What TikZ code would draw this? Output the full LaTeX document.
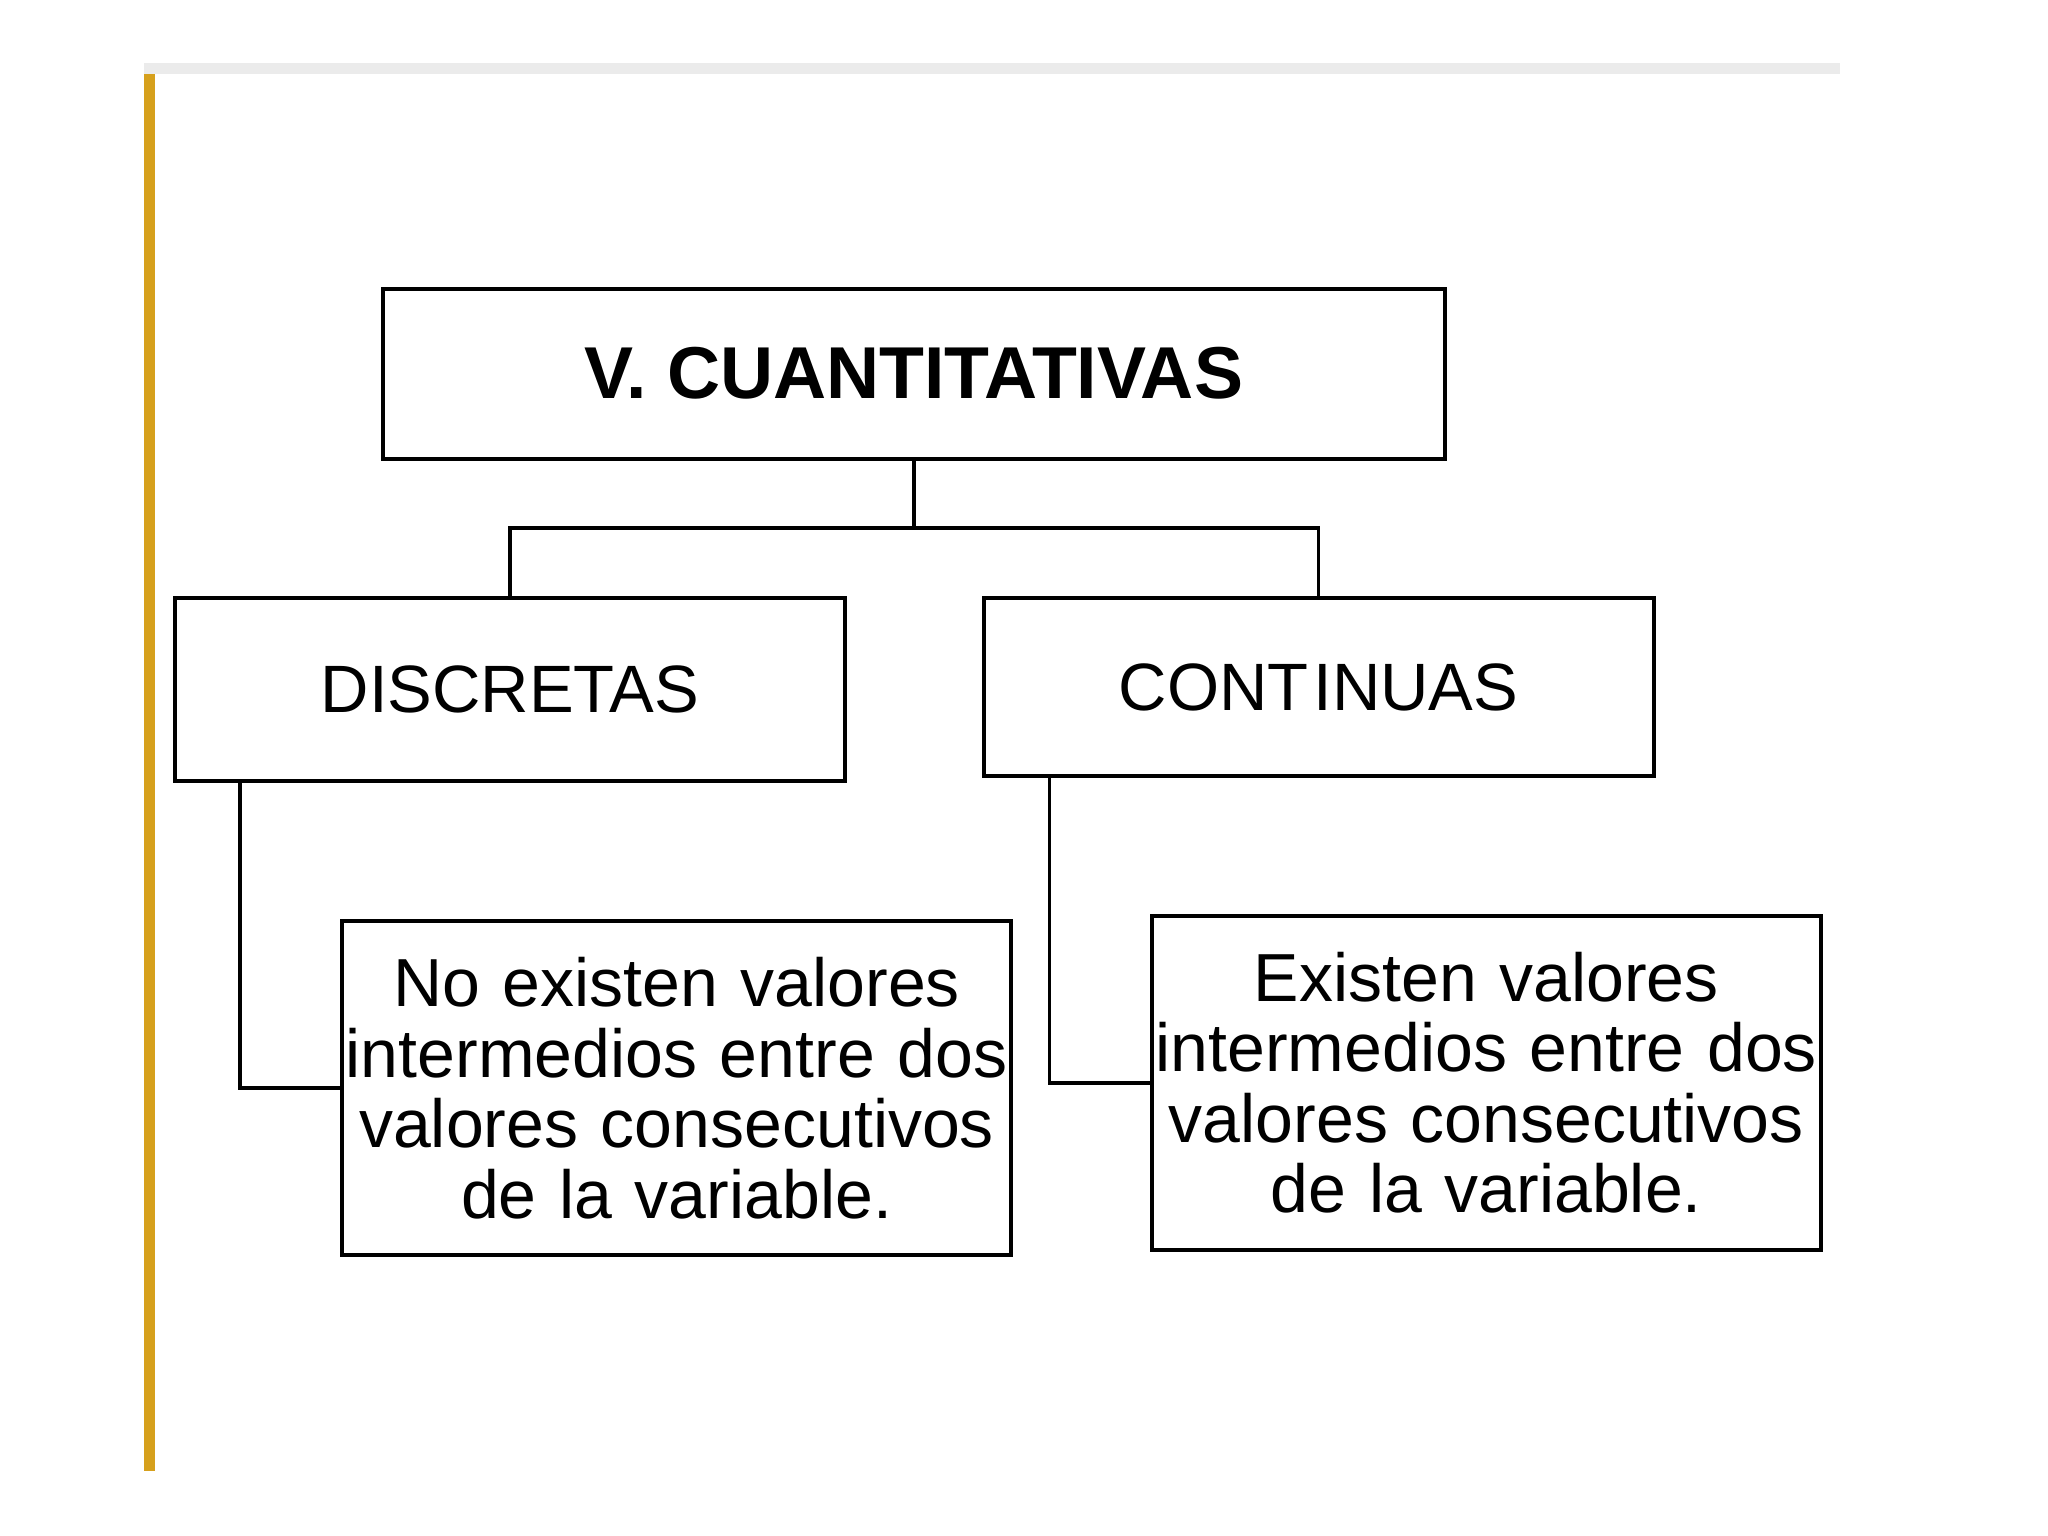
\documentclass[tikz,border=0pt]{standalone}
\usepackage{fontspec}
\setmainfont{Liberation Sans}
\definecolor{barGray}{RGB}{235,235,235}
\definecolor{barGold}{RGB}{214,160,28}
\begin{document}
\begin{tikzpicture}[x=1pt,y=-1pt,
  box/.style={draw=black, line width=4pt, inner sep=0pt, align=center, text=black},
  link/.style={draw=black, line width=3.8pt}]
\useasboundingbox (0,0) rectangle (2048,1536);
\fill[white] (0,0) rectangle (2048,1536);
% decoration bars
\fill[barGray] (144,63) rectangle (1840,74);
\fill[barGold] (144,74) rectangle (155,1471);
% nodes
\node[box, minimum width=1062pt, minimum height=170pt,
  font=\fontsize{73.5}{86}\selectfont\bfseries] (top) at (913.6,373.5) {V. CUANTITATIVAS};
\node[box, minimum width=670pt, minimum height=183pt,
  font=\fontsize{67}{80}\selectfont] (disc) at (510,689.6) {DISCRETAS};
\node[box, minimum width=670pt, minimum height=178pt,
  font=\fontsize{67}{80}\selectfont] (cont) at (1318.5,687) {CONT\kern5pt INUAS};
\node[box, minimum width=669pt, minimum height=334pt, text width=669pt,
  font=\fontsize{68}{70.5}\selectfont] (ltext) at (676.6,1088)
  {No existen valores\\intermedios entre dos\\valores consecutivos\\de la variable.};
\node[box, minimum width=669pt, minimum height=334pt, text width=669pt,
  font=\fontsize{68}{70.5}\selectfont] (rtext) at (1486.4,1082.8)
  {Existen valores\\intermedios entre dos\\valores consecutivos\\de la variable.};
% connectors
\coordinate (j) at (913.6,527.7);
\draw[link] (top.south) -- (j);
\draw[link] (disc.north) |- (j) -| (cont.north);
\draw[link] ([xshift=66.6pt]disc.south west) |- (ltext.west);
\draw[link] ([xshift=68pt]cont.south west) |- (rtext.west);
\end{tikzpicture}
\end{document}
